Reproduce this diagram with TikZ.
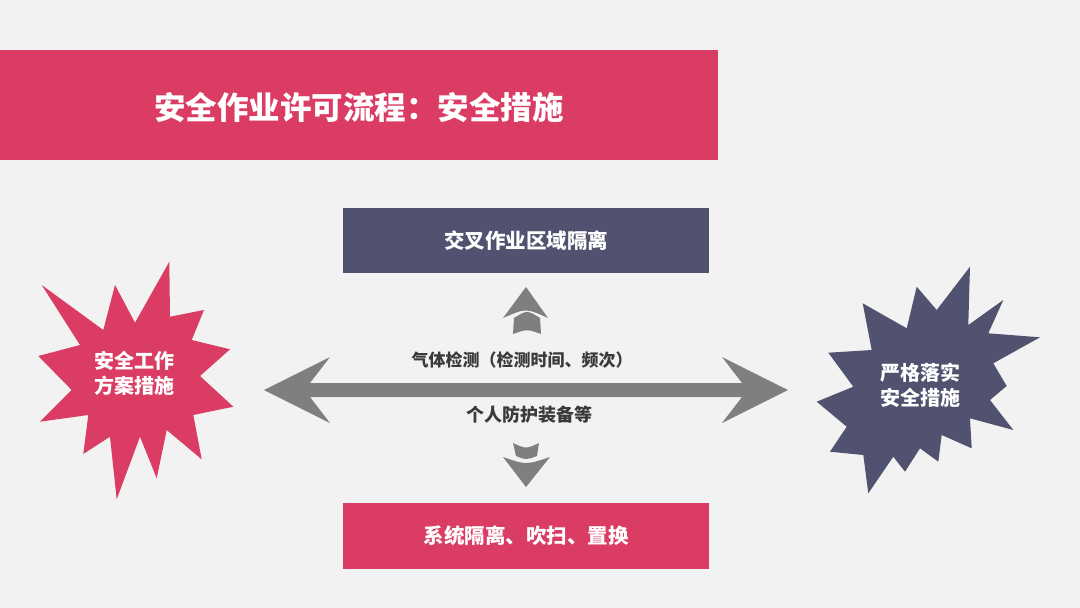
\documentclass[tikz,border=0pt]{standalone}
\usepackage{fontspec}
\setmainfont{Noto Sans CJK SC}
\usepackage{tikz}
\usepackage{xcolor}
\definecolor{crimson}{HTML}{DA3C63}
\definecolor{slate}{HTML}{50526F}
\definecolor{arrowgray}{HTML}{7F7F7F}
\definecolor{ink}{HTML}{3A3A3A}
\definecolor{paper}{HTML}{F2F2F2}

\begin{document}
\begin{tikzpicture}[x=1pt,y=-1pt,
    box/.style={minimum width=366pt,minimum height=65pt,inner sep=0pt,
      text=white,font=\fontsize{20.5}{24}\selectfont\bfseries},
    burst/.style={align=center,text=white,inner sep=0pt,
      font=\fontsize{20}{25}\selectfont\bfseries},
    note/.style={text=ink,font=\fontsize{17}{20}\selectfont\bfseries}]
        \fill[paper] (0,0) rectangle (1080,608);
        \useasboundingbox (0,0) rectangle (1080,608);
        % title bar
        \fill[crimson] (0,50) rectangle (718,160);
        \node[text=white,font=\fontsize{31.5}{36}\selectfont\bfseries] (title) at (359,108)
          {安全作业许可流程：安全措施};
        % boxes
        \node[box,fill=slate] (isolate) at (526,240.5) {交叉作业区域隔离};
        \node[box,fill=crimson,minimum height=66pt] (purge) at (526,536) {系统隔离、吹扫、置换};
        % starbursts
        \fill[crimson] plot coordinates {(41.7,285) (103.3,330) (115,285) (135,322.7)
          (169.3,261.7) (170,316.7) (204,310) (191.7,340) (230,349.3) (200,376)
          (233.3,406.7) (193.3,415) (201.7,459.3) (166.7,430) (156.7,478.3)
          (140,436.7) (116.7,499.3) (110,436.7) (83.3,454) (88.3,415) (40,421.7)
          (71.7,390) (38.3,356) (80,345)} -- cycle;
        \fill[slate] plot coordinates {(970,266.7) (968.3,325) (1003.3,300) (988.3,333.3)
          (1040,337.3) (993.3,363.3) (1006.7,386) (990,400) (1013.3,430) (970,418.3)
          (971.7,448.3) (941.7,435) (938.3,461.7) (920,448.3) (905,471.7)
          (893.3,456.7) (868.3,493.3) (863.3,455) (830,451.7) (846.7,426.7)
          (816.7,401.7) (853.3,386.7) (828.3,352.7) (871.7,350) (862.7,303.3)
          (906.7,328.3) (916.7,286.7) (936.7,310)} -- cycle;
        \node[burst] (plan) at (134,373) {安全工作\\方案措施};
        \node[burst] (enforce) at (920,385) {严格落实\\安全措施};
        % double arrow between the bursts
        \coordinate (arrL) at (264,390);
        \coordinate (arrR) at (788,390);
        \fill[arrowgray] (arrL) -- ++(66,-33) -- ++(-20,26) -- ++(432,0) -- ++(-20,-26)
          -- (arrR) -- ++(-66,33) -- ++(20,-26) -- ++(-432,0) -- ++(20,26) -- cycle;
        \node[note] (gas) at (522,360) {气体检测（检测时间、频次）};
        \node[note,font=\fontsize{18}{20}\selectfont\bfseries] (ppe) at (529,415) {个人防护装备等};
        % small up / down arrows
        \fill[arrowgray] (526,287) -- (548,318) .. controls (526,308) .. (503,318) -- cycle;
        \fill[arrowgray] (514,318) .. controls (527,310) .. (540,318) -- (541,334)
          .. controls (527,329) .. (513,334) -- cycle;
        \fill[arrowgray] (513,443) .. controls (526,449) .. (539,443) -- (537,456)
          .. controls (526,460) .. (516,456) -- cycle;
        \fill[arrowgray] (503,457) .. controls (526,465) .. (550,457) -- (526,487) -- cycle;
      \end{tikzpicture}
\end{document}
